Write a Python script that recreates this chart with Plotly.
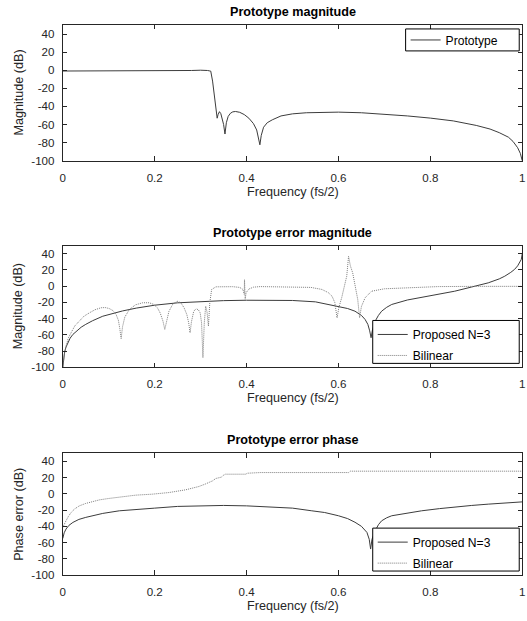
import plotly.graph_objects as go

# ---------------- data ----------------
# Prototype filter magnitude response (dB) vs normalised frequency (fs/2)
proto_freq = [0, 0.05, 0.1, 0.15, 0.2, 0.25, 0.28, 0.3, 0.31, 0.315, 0.32, 0.322,
              0.326, 0.33, 0.333, 0.336, 0.338, 0.341, 0.344, 0.347, 0.35, 0.353,
              0.356, 0.36, 0.365, 0.37, 0.376, 0.385, 0.395, 0.405, 0.415, 0.422,
              0.427, 0.429, 0.432, 0.437, 0.445, 0.456, 0.475, 0.5, 0.53, 0.57, 0.6,
              0.65, 0.7, 0.75, 0.8, 0.85, 0.9, 0.93, 0.95, 0.97, 0.98, 0.99, 0.996, 1.0]
proto_mag = [-0.9, -0.8, -0.7, -0.9, -1.2, -0.8, -0.3, 0.0, 0.1, -0.3, -0.8, -1.0,
             -12, -28, -42, -53, -49, -45.8, -48, -53, -60, -70.5,
             -58, -51, -47.5, -46, -45.6, -46.5, -49, -53, -59, -66,
             -76, -82.4, -72, -63, -58, -54.8, -50.5, -48.2, -47, -46.3, -46.3,
             -47, -48.5, -50.5, -52.9, -56, -61, -65, -69, -74, -78.7, -85.6, -92, -100]

# Prototype error magnitude (dB)
errmag_prop_freq = [0, 0.002, 0.004, 0.007, 0.011, 0.016, 0.022, 0.03, 0.04, 0.05,
                    0.065, 0.087, 0.1, 0.13, 0.16, 0.2, 0.25, 0.3, 0.35, 0.4, 0.45,
                    0.5, 0.55, 0.6, 0.62, 0.636, 0.65, 0.658, 0.664, 0.668, 0.671,
                    0.674, 0.68, 0.687, 0.694, 0.705, 0.716, 0.75, 0.781, 0.82, 0.853,
                    0.89, 0.926, 0.95, 0.962, 0.975, 0.983, 0.99, 0.995, 0.998, 1.0]
errmag_prop = [-100, -90, -81, -75, -69.6, -64, -59.4, -55, -50.5, -47,
               -42.5, -37, -34.8, -30.5, -27, -23.4, -20.5, -18.8, -17.8, -17.3, -17.2,
               -17.6, -19.3, -24.6, -27.5, -30.8, -36, -41, -47, -55, -63.5,
               -54, -43, -36, -30.8, -26, -22.5, -17, -13.6, -9.5, -6.2,
               -1, 4.1, 9, 12.3, 17, 20.5, 25, 30, 33, 40]

errmag_bil_freq = [0, 0.003, 0.007, 0.012, 0.018, 0.026, 0.036, 0.046, 0.058, 0.07,
                   0.083, 0.092, 0.101, 0.109, 0.116, 0.121, 0.124, 0.127, 0.13, 0.135,
                   0.145, 0.158, 0.174, 0.188, 0.198, 0.206, 0.212, 0.218, 0.222, 0.226,
                   0.231, 0.239, 0.249, 0.257, 0.264, 0.27, 0.274, 0.277, 0.28, 0.285,
                   0.29, 0.295, 0.299, 0.302, 0.305, 0.308, 0.311, 0.314, 0.317, 0.32,
                   0.324, 0.333, 0.35, 0.37, 0.385, 0.392, 0.395, 0.3955, 0.397, 0.399,
                   0.405, 0.415, 0.43, 0.5, 0.54, 0.564, 0.578, 0.586, 0.592, 0.597,
                   0.601, 0.607, 0.613, 0.618, 0.622, 0.626, 0.631, 0.637, 0.642, 0.646,
                   0.65, 0.658, 0.672, 0.7, 0.745, 0.817, 0.9, 1.0]
errmag_bil = [-100, -85, -73.8, -64, -57.4, -49, -43, -37, -32.8, -29,
              -26.6, -26.3, -27.5, -30, -34.8, -42, -52, -64.7, -50, -38,
              -28.7, -23, -20.4, -20.4, -22.5, -26.6, -33, -43, -53.3, -42,
              -31, -22.5, -18.5, -20.5, -26.6, -35, -45, -57.4, -44, -30.8,
              -27.9, -29, -32.8, -45, -88, -45, -24.6, -32, -49.2, -20,
              -4.1, -0.8, -0.5, -0.6, -1.5, -4, -10, 8, -16, -8,
              -3.5, -1.2, -0.5, -0.6, -1.5, -4, -8, -12.3, -20, -39,
              -26, -14.3, 0, 12.3, 36.8, 25, 16.4, 0, -16.4, -39,
              -25, -14.3, -6.2, -3.2, -2, -0.5, -0.2, -0.2]

# Prototype error phase (dB)
errph_prop_freq = [0, 0.003, 0.007, 0.013, 0.022, 0.035, 0.05, 0.07, 0.087, 0.123,
                   0.16, 0.2, 0.25, 0.3, 0.35, 0.4, 0.45, 0.5, 0.542, 0.57, 0.6,
                   0.62, 0.636, 0.65, 0.662, 0.667, 0.67, 0.673, 0.68, 0.687, 0.694,
                   0.705, 0.716, 0.75, 0.781, 0.82, 0.853, 0.89, 0.926, 0.96, 1.0]
errph_prop = [-55, -48, -43.4, -39, -35.2, -31.5, -29, -26.3, -24.1, -20.9,
              -19, -17.6, -15.5, -14.5, -14.3, -14.8, -16, -17.6, -20.9, -23, -27,
              -30.5, -35, -40, -47.5, -56, -68, -56, -45.5, -38, -33.2,
              -29.5, -27, -23.5, -20.9, -18.2, -16, -14.3, -12.7, -11.3, -9.9]

errph_bil_freq = [0, 0.003, 0.007, 0.012, 0.018, 0.026, 0.036, 0.05, 0.065, 0.08,
                  0.1, 0.13, 0.159, 0.195, 0.231, 0.267, 0.285, 0.296, 0.31, 0.318,
                  0.322, 0.326, 0.333, 0.34, 0.345, 0.35, 0.354, 0.398, 0.402, 0.43,
                  0.622, 0.626, 1.0]
errph_bil = [-41.4, -37, -33.2, -28, -23, -18.5, -14.8, -11.8, -9.4, -7.4,
             -5.7, -3.4, -1.6, -0.4, 1.6, 4.9, 7, 9, 12, 14,
             15.5, 16, 18.9, 20.1, 20.5, 23, 24.2, 24.2, 25.4, 26.2,
             26.2, 27.9, 27.9]

x_tick_vals = [0, 0.2, 0.4, 0.6, 0.8, 1]
x_tick_text = ["0", "0.2", "0.4", "0.6", "0.8", "1"]
y_tick_vals = [-100, -80, -60, -40, -20, 0, 20, 40]
y_tick_text = ["-100", "-80", "-60", "-40", "-20", "0", "20", "40"]

panel_titles = ["Prototype magnitude", "Prototype error magnitude", "Prototype error phase"]
x_title = "Frequency (fs/2)"
y_titles = ["Magnitude (dB)", "Magnitude (dB)", "Phase error (dB)"]

# ---------------- layout helpers ----------------
W, H = 527, 621
K = 1 / 0.992          # design-unit to figure-pixel factor
FONT = "Liberation Sans, Arial, sans-serif"
AX = "#262626"
SOLID = "#3c3c3c"
DOTTED = "#7c7c7c"
DOT_PATTERN = "1px,1px"


def px_x(p):
    return p * K / W


def px_y(p):
    return 1 - p * K / H


def fs(size):
    return round(size * K, 2)


plot_left, plot_right = 60, 521
panels = [(25, 161), (246, 368), (454, 576)]   # top/bottom rows of each axes box

fig = go.Figure()

fig.add_trace(go.Scatter(x=proto_freq, y=proto_mag, mode="lines", name="Prototype",
                         line=dict(color=SOLID, width=1), xaxis="x", yaxis="y",
                         legend="legend"))
fig.add_trace(go.Scatter(x=errmag_prop_freq, y=errmag_prop, mode="lines", name="Proposed N=3",
                         line=dict(color=SOLID, width=1), xaxis="x2", yaxis="y2",
                         legend="legend2", legendgroup="a2"))
fig.add_trace(go.Scatter(x=errmag_bil_freq, y=errmag_bil, mode="lines", name="Bilinear",
                         line=dict(color=DOTTED, width=1, dash=DOT_PATTERN), xaxis="x2", yaxis="y2",
                         legend="legend2", legendgroup="b2"))
fig.add_trace(go.Scatter(x=errph_prop_freq, y=errph_prop, mode="lines", name="Proposed N=3",
                         line=dict(color=SOLID, width=1), xaxis="x3", yaxis="y3",
                         legend="legend3", legendgroup="a3"))
fig.add_trace(go.Scatter(x=errph_bil_freq, y=errph_bil, mode="lines", name="Bilinear",
                         line=dict(color=DOTTED, width=1, dash=DOT_PATTERN), xaxis="x3", yaxis="y3",
                         legend="legend3", legendgroup="b3"))

layout = dict(
    width=W, height=H,
    margin=dict(l=0, r=0, t=0, b=0),
    paper_bgcolor="white", plot_bgcolor="white",
    font=dict(family=FONT, color=AX),
    showlegend=True,
)

axis_common = dict(
    showline=True, linecolor=AX, linewidth=1, mirror="ticks",
    ticks="inside", ticklen=4.5 * K, tickcolor=AX, tickwidth=1,
    showgrid=False, zeroline=False, ticklabeloverflow="allow",
    tickfont=dict(family=FONT, size=fs(11.5), color=AX),
)

annotations = []
for i, (top, bot) in enumerate(panels):
    sfx = "" if i == 0 else str(i + 1)
    layout["xaxis" + sfx] = dict(
        axis_common, domain=[px_x(plot_left), min(px_x(plot_right), 0.9985)], range=[0, 1],
        tickvals=x_tick_vals, ticktext=x_tick_text, anchor="y" + sfx,
        ticklabelstandoff=6,
    )
    layout["yaxis" + sfx] = dict(
        axis_common, domain=[px_y(bot), px_y(top)], range=[-100, 50],
        tickvals=y_tick_vals, ticktext=y_tick_text, anchor="x" + sfx,
        ticklabelstandoff=5,
    )
    cx = px_x((plot_left + plot_right) / 2)
    annotations.append(dict(text="<b>" + panel_titles[i] + "</b>", xref="paper", yref="paper",
                            x=cx, y=px_y(top - 13), xanchor="center", yanchor="middle",
                            showarrow=False, font=dict(family=FONT, size=fs(12.5), color="black")))
    annotations.append(dict(text=x_title, xref="paper", yref="paper",
                            x=cx, y=px_y(bot + 31), xanchor="center", yanchor="middle",
                            showarrow=False, font=dict(family=FONT, size=fs(12.5), color=AX)))
    annotations.append(dict(text=y_titles[i], xref="paper", yref="paper",
                            x=px_x(15.7), y=px_y((top + bot) / 2), xanchor="center",
                            yanchor="middle", textangle=-90,
                            showarrow=False, font=dict(family=FONT, size=fs(12.5), color=AX)))

layout["annotations"] = annotations

# legend frames (drawn as shapes so their size is fixed)
legend_boxes = [(404, 518, 29, 51), (371, 518, 321, 364), (371, 518, 529, 572)]
shapes = []
for (x0, x1, y0, y1) in legend_boxes:
    shapes.append(dict(type="rect", xref="paper", yref="paper", layer="above",
                       x0=px_x(x0), x1=px_x(x1), y0=px_y(y1), y1=px_y(y0),
                       line=dict(color="black", width=1), fillcolor="white"))
layout["shapes"] = shapes

legend_common = dict(bgcolor="rgba(0,0,0,0)", borderwidth=0, xanchor="left", yanchor="top",
                     font=dict(family=FONT, size=fs(12), color="black"), tracegroupgap=2,
                     itemclick=False, itemdoubleclick=False)
layout["legend"] = dict(legend_common, x=px_x(404), y=px_y(25.5))
layout["legend2"] = dict(legend_common, x=px_x(371), y=px_y(320.5))
layout["legend3"] = dict(legend_common, x=px_x(371), y=px_y(528.5))

fig.update_layout(**layout)
fig.write_html("out.html")
